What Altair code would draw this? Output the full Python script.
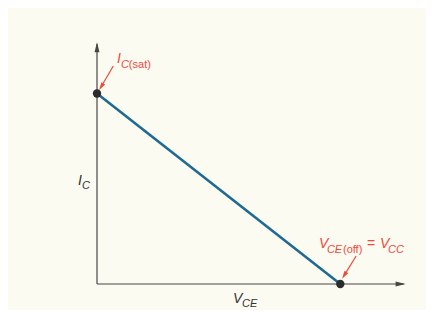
import altair as alt
import pandas as pd

# Load line: endpoints (V_CE, I_C) in arbitrary units
vce_points = [0.0, 10.0]
ic_points = [10.0, 0.0]

AXMAX = 12.7

# Annotation pieces: text, x, y, font size, colour, style
ann_text = ["I", "C", "(sat)", "V", "CE", "(off)", "=", "V", "CC", "I", "C", "V", "CE"]
ann_x = [0.82, 0.99, 1.31, 9.12, 9.45, 10.11, 11.10, 11.63, 11.96, -0.78, -0.62, 5.59, 5.96]
ann_y = [11.60, 11.34, 11.34, 1.89, 1.63, 1.63, 1.89, 1.89, 1.63, 5.20, 4.99, -1.00, -1.21]
ann_size = [14, 11, 11, 14, 11, 11, 14, 14, 11, 14, 11, 14, 11]
ann_color = ["red"] * 9 + ["dark"] * 4
ann_style = ["italic", "italic", "normal", "italic", "italic", "normal", "normal", "italic", "italic",
             "italic", "italic", "italic", "italic"]

# Red pointer arrows (tail -> head)
arr_x = [0.67, 10.65]
arr_y = [11.44, 1.47]
arr_x2 = [0.17, 10.16]
arr_y2 = [10.35, 0.45]
arr_angle = [212, 212]

RED = "#ef4a3a"
DARK = "#474747"
BLUE = "#1f6a93"

xs = alt.Scale(domain=[0, AXMAX], nice=False, zero=False)
ys = alt.Scale(domain=[0, AXMAX], nice=False, zero=False)

axes_df = pd.DataFrame({"x": [0, 0], "y": [0, 0], "x2": [0, AXMAX - 0.1], "y2": [AXMAX - 0.1, 0]})
axes = alt.Chart(axes_df).mark_rule(color=DARK, strokeWidth=1.2).encode(
    x=alt.X("x:Q", scale=xs, axis=None), y=alt.Y("y:Q", scale=ys, axis=None),
    x2="x2:Q", y2="y2:Q")

heads_df = pd.DataFrame({"x": [0, AXMAX - 0.22], "y": [AXMAX - 0.27, 0], "a": [0, 90]})
heads = alt.Chart(heads_df).mark_point(
    shape="M0,-1L0.5,1L-0.5,1Z", filled=True, color=DARK, size=100, opacity=1, strokeWidth=0
).encode(x=alt.X("x:Q", scale=xs), y=alt.Y("y:Q", scale=ys), angle=alt.Angle("a:Q", scale=None))

line_df = pd.DataFrame({"vce": vce_points, "ic": ic_points})
line = alt.Chart(line_df).mark_line(color=BLUE, strokeWidth=2.6).encode(
    x=alt.X("vce:Q", scale=xs), y=alt.Y("ic:Q", scale=ys))
dots = alt.Chart(line_df).mark_circle(color="#2b2b2b", size=70, opacity=1).encode(
    x=alt.X("vce:Q", scale=xs), y=alt.Y("ic:Q", scale=ys))

arr_df = pd.DataFrame({"x": arr_x, "y": arr_y, "x2": arr_x2, "y2": arr_y2, "a": arr_angle})
arr_lines = alt.Chart(arr_df).mark_rule(color=RED, strokeWidth=1.2).encode(
    x=alt.X("x:Q", scale=xs), y=alt.Y("y:Q", scale=ys), x2="x2:Q", y2="y2:Q")
arr_heads = alt.Chart(arr_df).mark_point(
    shape="M0,-1L0.55,1L-0.55,1Z", filled=True, color=RED, size=64, opacity=1, strokeWidth=0
).encode(x=alt.X("x2:Q", scale=xs), y=alt.Y("y2:Q", scale=ys), angle=alt.Angle("a:Q", scale=None))

ann_df = pd.DataFrame({"t": ann_text, "x": ann_x, "y": ann_y, "s": ann_size,
                       "c": ann_color, "st": ann_style})
cscale = alt.Scale(domain=["red", "dark"], range=[RED, "#333333"])

def text_layer(style):
    return alt.Chart(ann_df).transform_filter(alt.datum.st == style).mark_text(
        align="left", baseline="alphabetic", font="Liberation Sans", fontStyle=style
    ).encode(
        x=alt.X("x:Q", scale=xs), y=alt.Y("y:Q", scale=ys), text="t:N",
        size=alt.Size("s:Q", scale=None, legend=None),
        color=alt.Color("c:N", scale=cscale, legend=None))

chart = alt.layer(
    axes, heads, line, arr_lines, arr_heads, dots, text_layer("italic"), text_layer("normal")
).properties(
    width=309, height=242,
    autosize=alt.AutoSizeParams(type="none"),
    padding={"left": 89, "top": 34, "right": 20, "bottom": 26},
    background="#fcfbf2",
).configure_view(stroke=None)

chart.save("out.html", embed_options={"renderer": "svg", "actions": False})
